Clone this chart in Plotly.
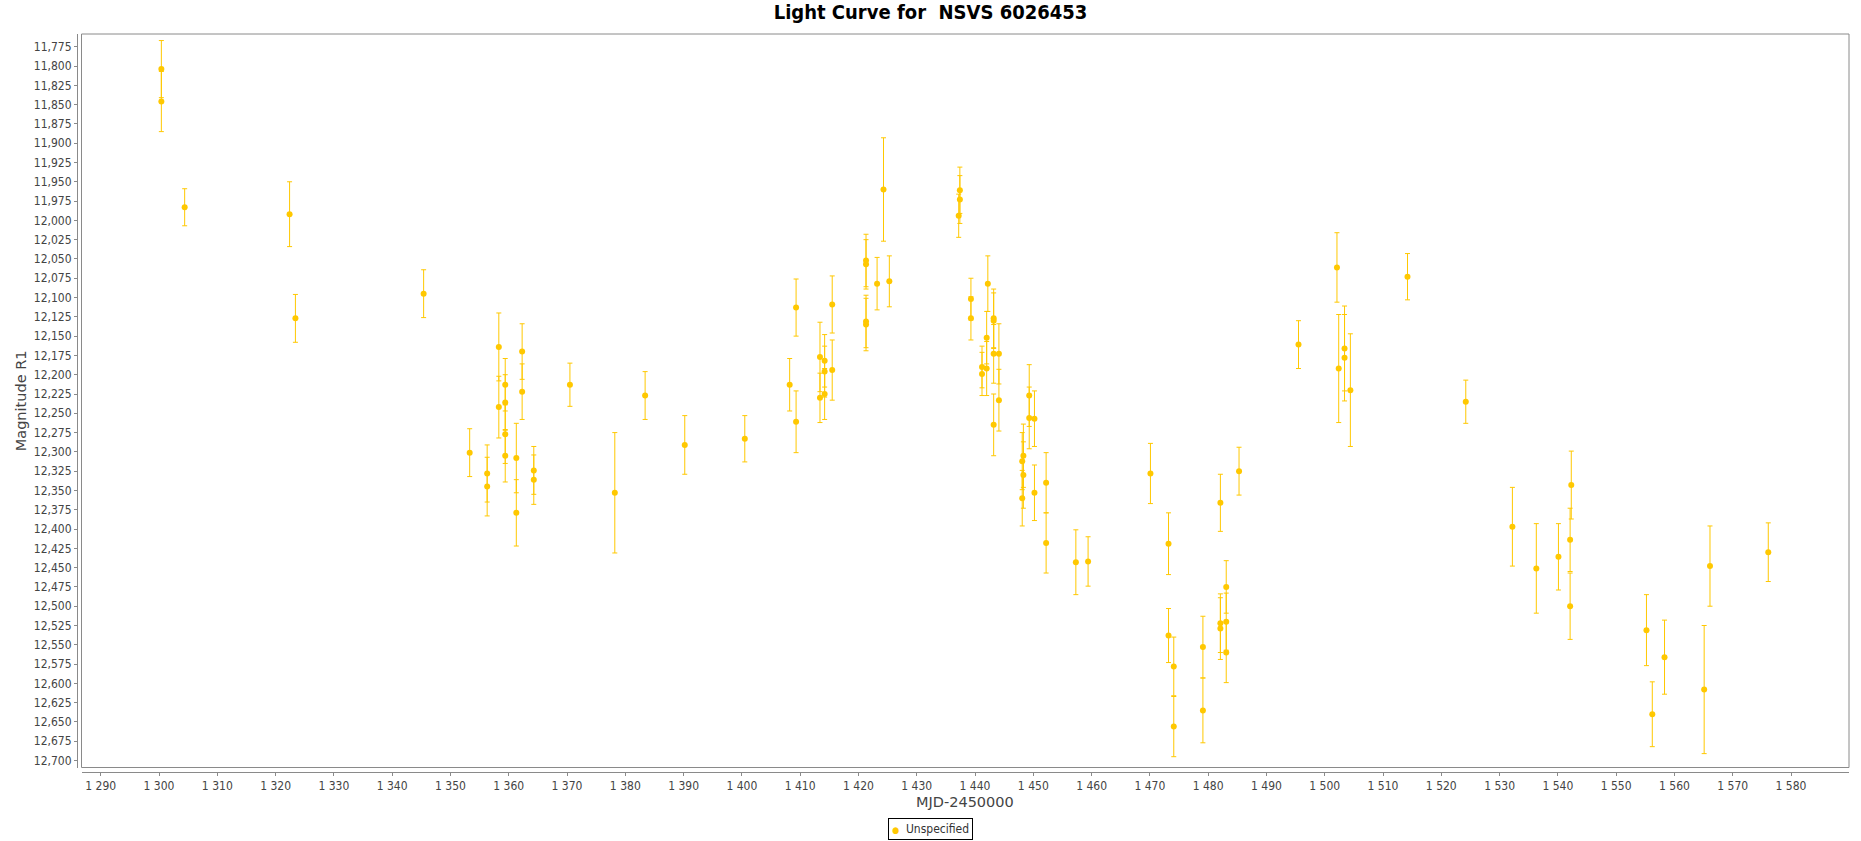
import plotly.graph_objects as go

# MJD-2450000
days = [1300.4, 1300.4, 1304.4, 1322.4, 1323.4, 1345.4, 1353.3, 1356.3, 1356.3, 1358.3,
        1358.3, 1359.4, 1359.4, 1359.4, 1359.4, 1361.3, 1361.3, 1362.3, 1362.3, 1364.3,
        1364.3, 1370.5, 1378.2, 1383.4, 1390.2, 1400.5, 1408.2, 1409.3, 1409.3, 1413.4,
        1413.4, 1414.2, 1414.2, 1414.2, 1415.5, 1415.5, 1421.3, 1421.3, 1421.3, 1421.3,
        1423.2, 1424.3, 1425.3, 1437.2, 1437.4, 1437.4, 1439.3, 1439.3, 1441.2, 1441.2,
        1442.2, 1442.0, 1442.0, 1443.2, 1443.2, 1443.2, 1443.2, 1444.1, 1444.1, 1448.1,
        1448.1, 1448.3, 1448.3, 1449.3, 1449.3, 1450.2, 1450.2, 1452.2, 1452.2, 1457.3,
        1459.4, 1470.1, 1473.2, 1473.2, 1474.1, 1474.1, 1479.1, 1479.1, 1482.1, 1482.1,
        1482.1, 1483.1, 1483.1, 1483.1, 1485.3, 1495.5, 1502.1, 1502.4, 1503.4, 1503.4,
        1504.4, 1514.2, 1524.2, 1532.2, 1536.3, 1540.1, 1542.3, 1542.1, 1542.1, 1555.2,
        1556.2, 1558.3, 1565.1, 1566.1, 1576.1]

# Magnitude R1
mags = [11.804, 11.846, 11.983, 11.992, 12.127, 12.095, 12.301, 12.328, 12.345, 12.164,
        12.242, 12.213, 12.236, 12.277, 12.305, 12.308, 12.379, 12.170, 12.222, 12.324,
        12.336, 12.213, 12.353, 12.227, 12.291, 12.283, 12.213, 12.113, 12.261, 12.177,
        12.230, 12.182, 12.196, 12.225, 12.109, 12.194, 12.052, 12.057, 12.131, 12.135,
        12.082, 11.960, 12.079, 11.994, 11.961, 11.973, 12.102, 12.127, 12.190, 12.199,
        12.082, 12.152, 12.192, 12.127, 12.130, 12.173, 12.265, 12.173, 12.233, 12.312,
        12.360, 12.305, 12.330, 12.227, 12.256, 12.257, 12.353, 12.340, 12.418, 12.443,
        12.442, 12.328, 12.419, 12.538, 12.578, 12.656, 12.553, 12.635, 12.366, 12.522,
        12.529, 12.475, 12.520, 12.560, 12.325, 12.161, 12.061, 12.192, 12.166, 12.178,
        12.220, 12.073, 12.235, 12.397, 12.451, 12.436, 12.343, 12.414, 12.500, 12.531,
        12.640, 12.566, 12.608, 12.448, 12.430]

# Uncertainty
errs = [0.037, 0.039, 0.024, 0.042, 0.031, 0.031, 0.031, 0.037, 0.038, 0.044,
        0.040, 0.034, 0.036, 0.038, 0.034, 0.045, 0.043, 0.036, 0.036, 0.031,
        0.032, 0.028, 0.078, 0.031, 0.038, 0.030, 0.034, 0.037, 0.040, 0.045,
        0.032, 0.034, 0.033, 0.033, 0.037, 0.039, 0.034, 0.032, 0.034, 0.034,
        0.034, 0.067, 0.033, 0.028, 0.030, 0.031, 0.027, 0.028, 0.027, 0.028,
        0.036, 0.034, 0.035, 0.038, 0.036, 0.038, 0.040, 0.039, 0.040, 0.037,
        0.036, 0.041, 0.043, 0.040, 0.040, 0.036, 0.036, 0.039, 0.039, 0.042,
        0.032, 0.039, 0.040, 0.035, 0.038, 0.039, 0.040, 0.042, 0.037, 0.038,
        0.040, 0.034, 0.037, 0.039, 0.031, 0.031, 0.045, 0.070, 0.055, 0.056,
        0.073, 0.030, 0.028, 0.051, 0.058, 0.043, 0.044, 0.041, 0.043, 0.046,
        0.042, 0.048, 0.083, 0.052, 0.038]

series_name = "Unspecified"
title_text = "<b>Light Curve for\u00a0 NSVS 6026453</b>"
x_title = "MJD-2450000"
y_title = "Magnitude R1"

YELLOW = "rgb(255,200,0)"
AXIS = "#8a8a8a"
TXT = "#444444"
CFONT = "DejaVu Sans Condensed, DejaVu Sans"
RFONT = "DejaVu Sans"

W, H = 1861, 841
ML, MR, MT, MB = 77, 12, 34, 69

fig = go.Figure()
fig.add_trace(go.Scatter(
    x=days, y=mags, mode="markers", name=series_name, showlegend=False,
    marker=dict(color=YELLOW, size=6),
    error_y=dict(type="data", array=errs, visible=True, color=YELLOW,
                 thickness=1, width=2.5),
))

pw = W - ML - MR
ph = H - MT - MB

legend_text = ("<span style='font-size:9px;color:%s'>\u25cf</span>\u00a0 %s"
               % (YELLOW, series_name))

fig.update_layout(
    width=W, height=H,
    margin=dict(l=ML, r=MR, t=MT, b=MB, autoexpand=False),
    paper_bgcolor="white", plot_bgcolor="white",
    separators=", ",
    font=dict(family=CFONT, size=12, color=TXT),
    title=dict(text=title_text, x=0.5, xanchor="center", xref="container",
               y=1 - 12 / H, yanchor="middle", yref="container",
               font=dict(family=CFONT, size=20, color="black")),
    xaxis=dict(domain=[4.5 / pw, 1], anchor="free", position=0,
               range=[1286.7, 1589.95], dtick=10, tick0=0, tickformat=",.0f",
               showline=True, linecolor=AXIS, linewidth=1,
               ticks="outside", ticklen=3, tickcolor=AXIS,
               showgrid=False, zeroline=False,
               tickfont=dict(family=CFONT, size=12, color=TXT)),
    yaxis=dict(domain=[4.5 / ph, 1], anchor="free", position=0,
               range=[12.709, 11.7585], dtick=0.025, tick0=0, tickformat=".3f",
               showline=True, linecolor=AXIS, linewidth=1,
               ticks="outside", ticklen=3, tickcolor=AXIS,
               showgrid=False, zeroline=False,
               tickfont=dict(family=CFONT, size=12, color=TXT)),
    showlegend=False,
    shapes=[dict(type="rect", xref="x domain", yref="y domain",
                 x0=0, x1=1, y0=0, y1=1,
                 line=dict(color=AXIS, width=1), fillcolor="rgba(0,0,0,0)",
                 layer="below")],
    annotations=[
        dict(text=x_title, xref="x domain", x=0.5, yref="paper",
             y=-(802 - (H - MB)) / ph, yanchor="middle", showarrow=False,
             font=dict(family=RFONT, size=14.5, color=TXT)),
        dict(text=y_title, xref="paper", x=(20.5 - ML) / pw, xanchor="center",
             yref="y domain", y=0.5, yanchor="middle", textangle=-90,
             showarrow=False, font=dict(family=RFONT, size=14.5, color=TXT)),
        dict(text=legend_text, xref="paper", x=(930.5 - ML) / pw, xanchor="center",
             yref="paper", y=-(828.8 - (H - MB)) / ph, yanchor="middle",
             showarrow=False, bordercolor="black", borderwidth=1, borderpad=3,
             bgcolor="white", font=dict(family=CFONT, size=12, color="#333333")),
    ],
)

fig.write_html("out.html", config={"displayModeBar": False},
               post_script="document.body.style.margin='0';")
